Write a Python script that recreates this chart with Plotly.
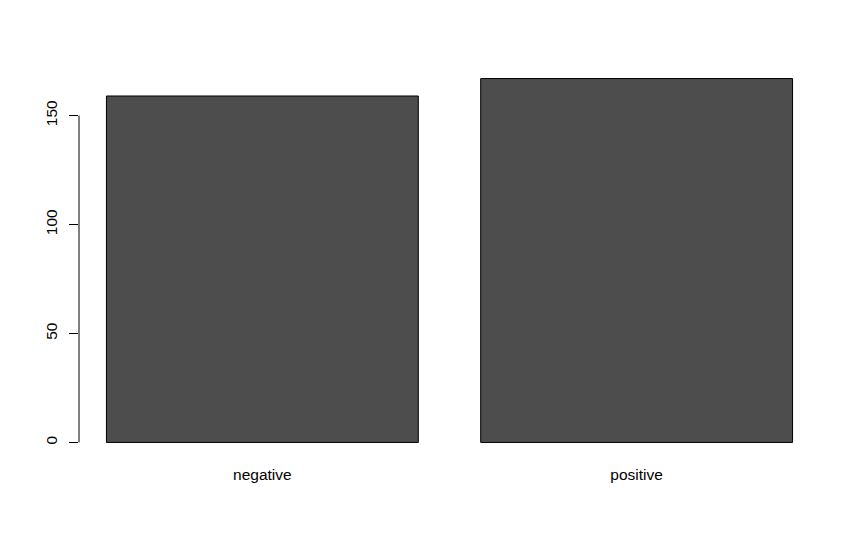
import plotly.graph_objects as go

categories = ["negative", "positive"]
counts = [159, 167]
y_ticks = [0, 50, 100, 150]

bar_width = 1.0
space = 0.2
centers = [space + bar_width / 2 + i * (bar_width + space) for i in range(len(categories))]
x_lo = space
x_hi = len(categories) * (bar_width + space)
xpad = (x_hi - x_lo) * 0.04
ymax = max(counts)
ypad = ymax * 0.04

fig = go.Figure()
fig.add_trace(go.Bar(
    x=centers, y=counts, width=bar_width,
    marker=dict(color="#4D4D4D", line=dict(color="black", width=1)),
    hoverinfo="skip",
))

font = dict(family="Arial, Liberation Sans, sans-serif", size=15.5, color="black")

fig.update_layout(
    width=861, height=544,
    margin=dict(l=79, r=41, t=64, b=87, pad=0),
    paper_bgcolor="white", plot_bgcolor="white",
    showlegend=False,
    font=font,
    xaxis=dict(
        range=[x_lo - xpad, x_hi + xpad],
        tickvals=centers, ticktext=categories,
        showgrid=False, zeroline=False, showline=False,
        ticks="outside", ticklen=3, tickcolor="rgba(0,0,0,0)",
        tickfont=font,
    ),
    yaxis=dict(
        range=[-ypad, ymax + ypad],
        tickvals=y_ticks, ticktext=[str(v) for v in y_ticks],
        tickangle=-90,
        showgrid=False, zeroline=False, showline=False,
        ticks="outside", ticklen=9, tickcolor="black", tickwidth=1,
        ticklabelstandoff=6,
        tickfont=font,
    ),
)

fig.add_shape(type="line", xref="paper", yref="y",
              x0=0, x1=0, y0=min(y_ticks), y1=max(y_ticks),
              line=dict(color="black", width=1))

fig.write_html("out.html")
